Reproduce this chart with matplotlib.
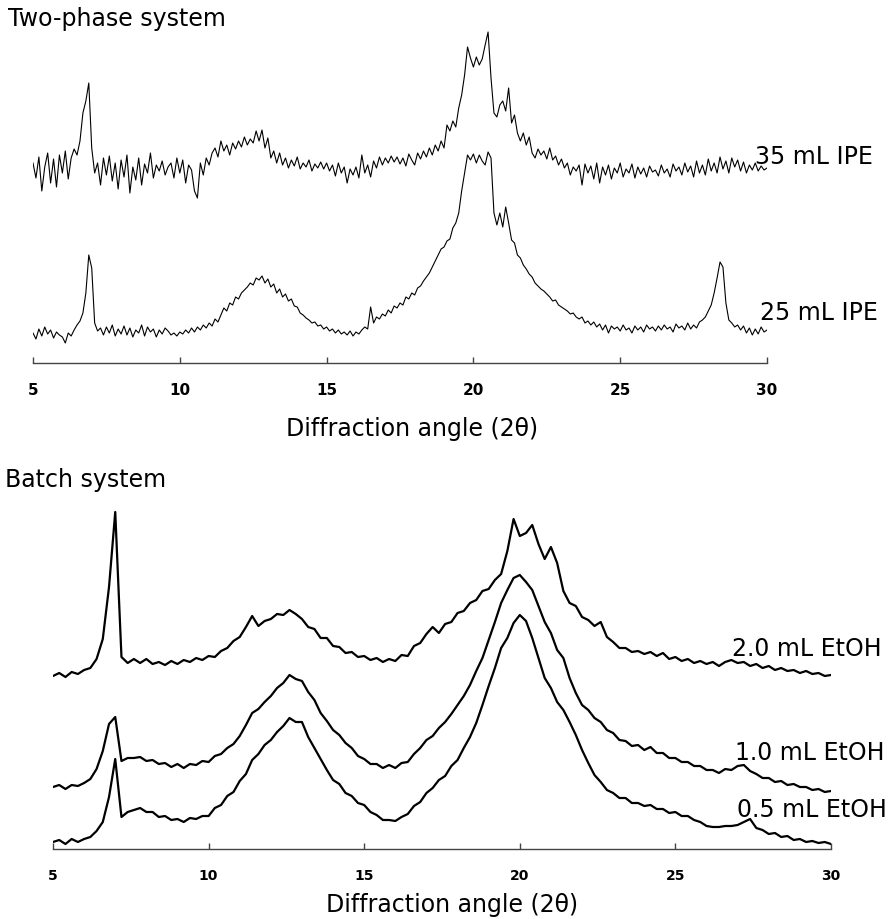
import numpy as np
import matplotlib.pyplot as plt

# XRD patterns, intensity in arbitrary units (trace offsets already included)
# two-phase system scanned at 0.1 deg steps, batch system at 0.2 deg steps
two_theta_range = (5, 30)

ipe_35 = [
    200, 185, 206, 172, 196, 210, 180, 204, 176, 208,
    190, 212, 184, 205, 214, 208, 222, 250, 262, 280,
    215, 190, 200, 178, 205, 188, 207, 182, 200, 174,
    203, 186, 208, 170, 196, 183, 205, 178, 199, 190,
    210, 185, 198, 192, 202, 188, 196, 200, 185, 205,
    190, 203, 180, 198, 193, 172, 165, 200, 188, 205,
    198, 210, 215, 206, 222, 212, 218, 208, 220, 214,
    222, 216, 226, 218, 224, 220, 232, 222, 233, 215,
    225, 205, 212, 200, 210, 198, 205, 195, 203, 197,
    206, 194, 200, 196, 203, 192, 199, 195, 201, 194,
    200, 192, 198, 187, 200, 190, 196, 180, 194, 188,
    196, 185, 208, 190, 198, 186, 202, 195, 206, 198,
    205, 200, 207, 201, 206, 199, 205, 197, 209, 203,
    198, 210, 204, 212, 206, 215, 208, 218, 212, 222,
    215, 238, 232, 242, 236, 255, 268, 288, 316, 305,
    296, 306, 298, 304, 318, 331, 285, 250, 246, 258,
    262, 252, 275, 240, 248, 230, 222, 230, 218, 226,
    210, 205, 214, 208, 212, 204, 215, 203, 207, 198,
    204, 195, 200, 188, 196, 192, 198, 178, 199, 190,
    197, 184, 200, 180, 196, 188, 198, 184, 195, 190,
    200, 186, 194, 190, 199, 185, 196, 189, 195, 186,
    197, 191, 193, 187, 198, 190, 194, 186, 199, 192,
    196, 188, 200, 191, 197, 186, 202, 190, 198, 188,
    204, 192, 200, 190, 206, 194, 202, 190, 205, 196,
    203, 192, 201, 190, 198, 193, 200, 192, 197, 193,
    195,
]

ipe_25 = [
    30, 24, 34, 27, 36, 29, 33, 25, 31, 28,
    26, 20, 30, 27, 33, 38, 42, 50, 70, 108,
    95, 40, 32, 35, 28, 36, 30, 38, 27, 34,
    29, 37, 28, 35, 26, 33, 30, 38, 27, 36,
    31, 34, 26, 33, 29, 35, 32, 28, 30, 27,
    31, 29, 33, 30, 35, 31, 36, 33, 38, 35,
    40, 37, 44, 41, 48, 55, 52, 60, 58, 66,
    64, 70, 73, 76, 80, 78, 85, 83, 87, 80,
    84, 76, 79, 70, 74, 66, 69, 62, 64, 57,
    56, 50, 48, 45, 43, 40, 41, 37, 38, 34,
    36, 32, 34, 30, 33, 29, 31, 28, 32, 27,
    31, 29, 33, 36, 34, 56, 40, 46, 44, 49,
    47, 53, 50, 57, 55, 60, 58, 66, 64, 70,
    68, 75, 77, 82, 86, 90, 96, 102, 108, 114,
    116, 122, 124, 135, 140, 150, 172, 190, 208, 203,
    209, 200, 208, 202, 198, 211, 205, 150, 138, 150,
    136, 156, 140, 123, 120, 108, 105, 98, 94, 89,
    86, 80, 77, 74, 72, 69, 66, 62, 63, 58,
    56, 54, 52, 49, 50, 46, 44, 46, 40, 42,
    38, 41, 36, 39, 33, 38, 30, 37, 34, 36,
    32, 38, 33, 35, 30, 37, 33, 36, 31, 38,
    34, 36, 32, 37, 33, 38, 34, 36, 31, 39,
    35, 37, 33, 40, 34, 38, 35, 41, 43, 46,
    52, 58, 70, 85, 101, 96, 60, 43, 40, 36,
    38, 33, 37, 30, 35, 28, 34, 29, 36, 31,
    33,
]

etoh_20 = [
    173, 176, 172, 177, 175, 179, 181, 190, 210, 262,
    337, 192, 186, 190, 186, 190, 185, 187, 184, 188,
    185, 189, 187, 191, 189, 193, 192, 198, 201, 208,
    212, 222, 233, 223, 228, 230, 235, 234, 239, 235,
    230, 222, 220, 211, 211, 203, 202, 196, 197, 192,
    193, 189, 191, 187, 190, 188, 194, 193, 203, 206,
    215, 222, 216, 225, 227, 236, 238, 246, 249, 258,
    260, 269, 275, 298, 330, 313, 316, 324, 305, 290,
    302, 286, 258, 246, 243, 232, 229, 223, 227, 212,
    207, 201, 201, 197, 198, 195, 197, 193, 196, 190,
    192, 188, 190, 186, 188, 185, 187, 183, 187, 189,
    186, 187, 183, 185, 181, 183, 179, 181, 178, 179,
    176, 178, 175, 176, 173, 174,
]

etoh_10 = [
    62, 64, 60, 64, 63, 66, 70, 80, 98, 125,
    132, 88, 91, 91, 92, 88, 89, 85, 86, 82,
    85, 81, 85, 84, 88, 87, 93, 95, 101, 105,
    113, 124, 136, 140, 147, 153, 161, 166, 174, 170,
    168, 157, 149, 136, 128, 119, 114, 106, 101, 93,
    90, 85, 85, 81, 84, 81, 86, 87, 95, 101,
    109, 113, 121, 127, 135, 144, 153, 164, 178, 191,
    209, 227, 246, 259, 271, 274, 267, 259, 243, 227,
    216, 199, 191, 171, 156, 144, 139, 131, 127, 119,
    116, 109, 108, 103, 104, 99, 102, 96, 96, 91,
    91, 87, 87, 83, 83, 79, 79, 76, 80, 79,
    83, 84, 78, 75, 71, 71, 67, 68, 64, 65,
    62, 62, 59, 60, 57, 58,
]

etoh_05 = [
    7, 9, 5, 10, 7, 10, 12, 18, 27, 52,
    90, 32, 37, 39, 41, 37, 37, 32, 33, 29,
    30, 27, 31, 30, 33, 33, 41, 44, 53, 57,
    68, 75, 89, 95, 104, 109, 117, 123, 131, 127,
    127, 112, 101, 90, 79, 69, 65, 56, 53, 46,
    44, 37, 34, 29, 29, 28, 32, 35, 43, 47,
    56, 61, 69, 73, 83, 89, 101, 112, 126, 144,
    163, 181, 201, 211, 226, 234, 228, 211, 191, 171,
    161, 147, 139, 127, 114, 99, 86, 74, 67, 59,
    56, 51, 51, 46, 46, 43, 44, 40, 40, 36,
    37, 33, 33, 29, 27, 23, 22, 22, 23, 23,
    24, 27, 30, 21, 19, 15, 16, 12, 13, 9,
    10, 7, 8, 6, 7, 5,
]

top_series = [(ipe_35, "35 mL IPE", 29.6, 207), (ipe_25, "25 mL IPE", 29.76, 51)]
bottom_series = [
    (etoh_20, "2.0 mL EtOH", 26.82, 201),
    (etoh_10, "1.0 mL EtOH", 26.92, 97),
    (etoh_05, "0.5 mL EtOH", 26.98, 40),
]
xticks = [5, 10, 15, 20, 25, 30]

W, H = 892, 920
fig = plt.figure(figsize=(W / 100, H / 100), dpi=100)
plt.rcParams["font.family"] = "DejaVu Sans"


def px_axes(left, right, bottom, top):
    return fig.add_axes([left / W, 1 - bottom / H, (right - left) / W, (bottom - top) / H])


def style_axis(ax, ymax, tick_size):
    ax.set_xlim(*two_theta_range)
    ax.set_ylim(0, ymax)
    for side in ("left", "right", "top"):
        ax.spines[side].set_visible(False)
    ax.spines["bottom"].set_color("#444444")
    ax.spines["bottom"].set_linewidth(1.0)
    ax.set_yticks([])
    ax.set_xticks(xticks)
    ax.tick_params(axis="x", direction="in", length=4, width=1, color="#444444",
                   pad=13.5, labelsize=tick_size)
    for lab in ax.get_xticklabels():
        lab.set_fontweight("bold")


# --- Two-phase system ---
ax1 = px_axes(33, 767, 364, 20)
style_axis(ax1, 344, 11)
for vals, name, lx, ly in top_series:
    x = np.linspace(*two_theta_range, len(vals))
    ax1.plot(x, vals, color="black", lw=0.8)
    ax1.text(lx, ly, name, fontsize=17, va="center", ha="left")

# --- Batch system ---
ax2 = px_axes(53, 831, 850, 490)
style_axis(ax2, 360, 10)
for vals, name, lx, ly in bottom_series:
    x = np.linspace(*two_theta_range, len(vals))
    ax2.plot(x, vals, color="black", lw=1.6)
    ax2.text(lx, ly, name, fontsize=17, va="center", ha="left")

fig.text(8 / W, 1 - 26 / H, "Two-phase system", fontsize=17, va="baseline")
fig.text(5 / W, 1 - 487 / H, "Batch system", fontsize=17, va="baseline")
fig.text(412 / W, 1 - 436 / H, "Diffraction angle (2θ)", fontsize=17,
         va="baseline", ha="center")
fig.text(452 / W, 1 - 912 / H, "Diffraction angle (2θ)", fontsize=17,
         va="baseline", ha="center")

fig.savefig("out.png", dpi=100, facecolor="white")
